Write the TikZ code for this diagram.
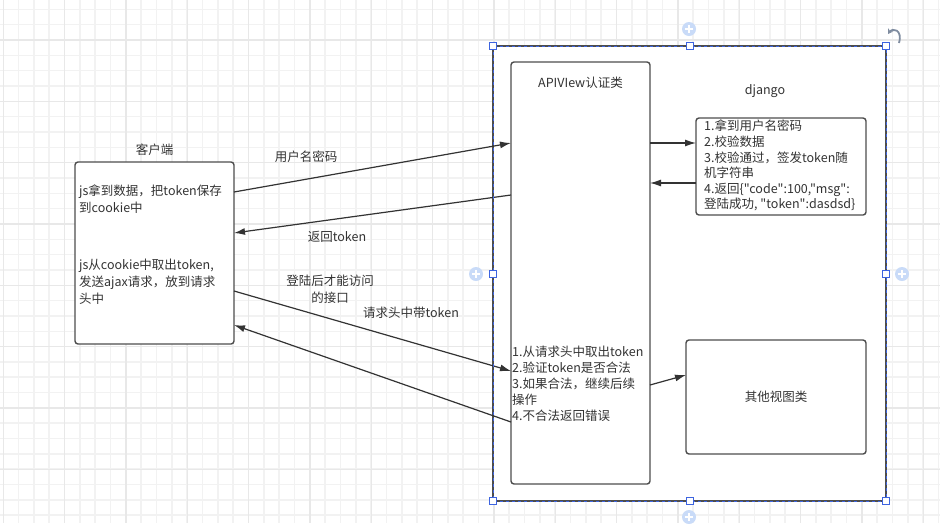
\documentclass[tikz,border=0pt]{standalone}
\usepackage{fontspec}
\setmainfont{Noto Sans CJK SC}[Ligatures=TeXOff]
\usetikzlibrary{positioning,arrows.meta}
\definecolor{ink}{HTML}{333333}
\definecolor{boxgray}{HTML}{4D4D4D}
\definecolor{gridminor}{HTML}{F2F2F2}
\definecolor{gridmajor}{HTML}{E8E8E8}
\definecolor{selblue}{HTML}{3D64E0}
\definecolor{plusblue}{HTML}{C9DBF8}
\definecolor{rotgray}{HTML}{7F8CA0}

\begin{document}
\begin{tikzpicture}[x=1pt,y=-1pt,
  box/.style={draw=boxgray,line width=1.4pt,rounded corners=3pt,fill=white,outer sep=0pt},
  txt/.style={text=ink,font=\fontsize{12.5}{17}\selectfont,inner sep=0pt,align=left},
  link/.style={draw=ink,line width=1.2pt,-{Latex[length=11pt,width=7pt]}},
  handle/.style={draw=selblue,fill=white,line width=0.8pt,minimum size=7pt,inner sep=0pt},
  plus/.style={circle,fill=plusblue,minimum size=14pt,inner sep=0pt}]
\useasboundingbox (0,0) rectangle (940,523);
\fill[white] (0,0) rectangle (940,523);
\foreach \i in {0,...,61} \draw[gridminor,line width=1.6pt] ({3.3+15.333*\i},0) -- ({3.3+15.333*\i},523);
\foreach \j in {0,...,33} \draw[gridminor,line width=1.6pt] (0,{9.3+15.333*\j}) -- (940,{9.3+15.333*\j});
\foreach \i in {0,...,15} \draw[gridmajor,line width=1.6pt] ({3.3+61.333*\i},0) -- ({3.3+61.333*\i},523);
\foreach \j in {0,...,7} \draw[gridmajor,line width=1.6pt] (0,{40+61.333*\j}) -- (940,{40+61.333*\j});

\node[box,minimum width=159pt,minimum height=182pt] (client) at (154.5,253) {};
\node[txt,above=6pt of client] (clientlbl) {客户端};
\node[txt,anchor=north west] (save) at (79,185) {js拿到数据，把token保存\\到cookie中};
\node[txt,anchor=north west] (send) at (79,259) {js从cookie中取出token,\\发送ajax请求，放到请求\\头中};

\node[draw=boxgray,line width=1.4pt,fill=white,outer sep=0pt,minimum width=393pt,minimum height=455pt] (django) at (689.5,273.5) {};
\node[txt] (djangolbl) at (765,91) {django};
\node[box,minimum width=139pt,minimum height=422pt] (apiview) at (580.5,273) {};
\node[txt,below=15pt of apiview.north] (apilbl) {APIVIew认证类};
\node[txt,anchor=north west,font=\fontsize{12.5}{16}\selectfont] (checks) at (512,346) {1.从请求头中取出token\\2.验证token是否合法\\3.如果合法，继续后续\\操作\\4.不合法返回错误};

\node[box,minimum width=170pt,minimum height=97pt] (steps) at (781,166.5) {};
\node[txt,anchor=north west,font=\fontsize{12.5}{15.6}\selectfont] (stepstxt) at (704,120) {1.拿到用户名密码\\2.校验数据\\3.校验通过，签发token随\\机字符串\\4.返回\{"code":100,"msg":\\登陆成功, "token":dasdsd\}};
\node[box,minimum width=180pt,minimum height=114pt] (other) at (776,397) {};
\node[txt] (otherlbl) at (other) {其他视图类};

\draw[link] ([yshift=61pt]client.east) -- ([yshift=130pt]apiview.west);
\draw[link] ([yshift=78pt]apiview.west) -- ([yshift=20pt]client.east);
\draw[link] ([yshift=-38pt]client.east) -- ([yshift=-98pt]apiview.west);
\draw[link] ([yshift=-149pt]apiview.west) -- ([yshift=-72pt]client.east);
\draw[link] ([yshift=130pt]apiview.east) -- ([yshift=23.5pt]steps.west);
\draw[link] ([yshift=-16.5pt]steps.west) -- ([yshift=90pt]apiview.east);
\draw[link] ([yshift=-112pt]apiview.east) -- ([yshift=22pt]other.west);

\node[txt] (userpwd) at (306,157) {用户名密码};
\node[txt] (backtoken) at (337,237) {返回token};
\node[txt,align=center] (loginonly) at (330,289.5) {登陆后才能访问\\的接口};
\node[txt] (headtoken) at (411,313) {请求头中带token};

\draw[selblue,dashed,line width=0.7pt] (django.north west) rectangle (django.south east);
\foreach \a in {north west,north,north east,west,east,south west,south,south east}
  \node[handle] at (django.\a) {};
\foreach \p/\q in {689/29,476/274,902/274,689/517} {
  \node[plus] (add\p\q) at (\p,\q) {};
  \draw[white,line width=1.4pt] ([xshift=-4pt]add\p\q.center) -- ([xshift=4pt]add\p\q.center);
  \draw[white,line width=1.4pt] ([yshift=-4pt]add\p\q.center) -- ([yshift=4pt]add\p\q.center);
}
\draw[rotgray,line width=1.8pt,{Stealth[length=5pt,width=6pt]}-] (888,34) .. controls (892,28) and (903,29) .. (899,43);
\end{tikzpicture}
\end{document}
